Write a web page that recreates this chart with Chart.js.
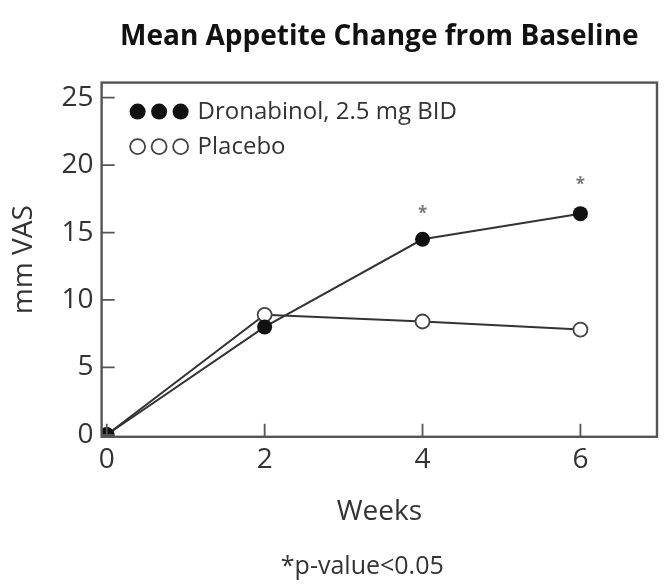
<!DOCTYPE html>
<html>
<head>
<meta charset="utf-8">
<script src="https://cdn.jsdelivr.net/npm/chart.js@4"></script>
<style>
  body { margin: 0; background: #fff; }
  #wrap { width: 666px; height: 586px; }
</style>
</head>
<body>
<div id="wrap"><canvas id="appetiteChart"></canvas></div>
<script>
const weeks = [0, 2, 4, 6];
const dronabinol = [0, 8.0, 14.5, 16.4];
const placebo = [0, 8.9, 8.4, 7.8];
const yTicks = [0, 5, 10, 15, 20, 25];
const xTicks = [0, 2, 4, 6];
// asterisks above significant weeks
const sigWeeks = [4, 6];
const sigY = [16.6, 18.7];
const footnote = "*p-value<0.05";

const fontName = "'Open Sans', 'Noto Sans', sans-serif";
const ink = "#333";

// box, inner tick marks, asterisks, legend and footnote
const decorPlugin = {
    id: "decor",
    afterDraw(chart) {
        const ctx = chart.ctx;
        const a = chart.chartArea;
        const xs = chart.scales.x;
        const ys = chart.scales.y;
        ctx.save();
        ctx.strokeStyle = "#555";
        ctx.lineWidth = 2.4;
        ctx.strokeRect(a.left, a.top, a.right - a.left, a.bottom - a.top);

        ctx.lineWidth = 1.8;
        ctx.beginPath();
        yTicks.forEach(function(v) {
            let py = ys.getPixelForValue(v);
            ctx.moveTo(a.left, py);
            ctx.lineTo(a.left + 13, py);
        });
        xTicks.forEach(function(v) {
            let px = xs.getPixelForValue(v);
            ctx.moveTo(px, a.bottom);
            ctx.lineTo(px, a.bottom - 13);
        });
        ctx.stroke();

        ctx.fillStyle = "#777";
        ctx.font = "bold 17px " + fontName;
        ctx.textAlign = "center";
        ctx.textBaseline = "middle";
        sigWeeks.forEach(function(w, i) {
            ctx.fillText("*", xs.getPixelForValue(w), ys.getPixelForValue(sigY[i]) + 3);
        });

        // legend
        let lx = a.left + 36;
        let ly1 = a.top + 29;
        let ly2 = a.top + 64;
        for (let i = 0; i < 3; i++) {
            ctx.beginPath();
            ctx.arc(lx + i * 21.5, ly1, 8, 0, Math.PI * 2);
            ctx.fillStyle = "#111";
            ctx.fill();
            ctx.beginPath();
            ctx.arc(lx + i * 21.5, ly2, 7.5, 0, Math.PI * 2);
            ctx.strokeStyle = "#444";
            ctx.lineWidth = 1.8;
            ctx.stroke();
        }
        ctx.fillStyle = ink;
        ctx.font = "24px " + fontName;
        ctx.textAlign = "left";
        ctx.fillText("Dronabinol, 2.5 mg BID", lx + 60, ly1 + 1);
        ctx.fillText("Placebo", lx + 60, ly2 + 1);

        ctx.textAlign = "center";
        ctx.font = "25px " + fontName;
        ctx.fillText(footnote, (a.left + a.right) / 2 - 17, 567);
        ctx.restore();
    }
};

new Chart(document.getElementById("appetiteChart"), {
    type: "line",
    data: {
        datasets: [
            {
                label: "Dronabinol, 2.5 mg BID",
                data: weeks.map((w, i) => ({ x: w, y: dronabinol[i] })),
                borderColor: ink,
                borderWidth: 2,
                pointBackgroundColor: "#111",
                pointBorderColor: "#111",
                pointRadius: 7.5,
                pointBorderWidth: 0,
                tension: 0
            },
            {
                label: "Placebo",
                data: weeks.map((w, i) => ({ x: w, y: placebo[i] })),
                borderColor: ink,
                borderWidth: 2,
                pointBackgroundColor: "#fff",
                pointBorderColor: "#444",
                pointRadius: 7,
                pointBorderWidth: 1.8,
                tension: 0
            }
        ]
    },
    options: {
        responsive: true,
        maintainAspectRatio: false,
        animation: false,
        layout: { padding: { top: 0, right: 9, bottom: 53, left: 4 } },
        plugins: {
            legend: { display: false },
            tooltip: { enabled: false },
            title: {
                display: true,
                fullSize: false,
                text: "Mean Appetite Change from Baseline",
                color: "#111",
                font: { family: fontName, size: 28, weight: "bold" },
                padding: { top: 20, bottom: 29 }
            }
        },
        scales: {
            x: {
                type: "linear",
                min: -0.065,
                max: 6.97,
                afterBuildTicks: s => { s.ticks = xTicks.map(v => ({ value: v })); },
                grid: { display: false, drawTicks: false },
                border: { display: false },
                ticks: { color: ink, font: { family: fontName, size: 28 }, padding: 6 },
                title: {
                    display: true,
                    text: "Weeks",
                    color: ink,
                    font: { family: fontName, size: 28 },
                    padding: { top: 13, bottom: 4 }
                }
            },
            y: {
                min: -0.15,
                max: 26.12,
                afterBuildTicks: s => { s.ticks = yTicks.map(v => ({ value: v })); },
                grid: { display: false, drawTicks: false },
                border: { display: false },
                ticks: { color: ink, font: { family: fontName, size: 28 }, padding: 8 },
                title: {
                    display: true,
                    text: "mm VAS",
                    color: ink,
                    font: { family: fontName, size: 28 },
                    padding: { top: 3, bottom: 13 }
                }
            }
        }
    },
    plugins: [decorPlugin]
});
</script>
</body>
</html>
